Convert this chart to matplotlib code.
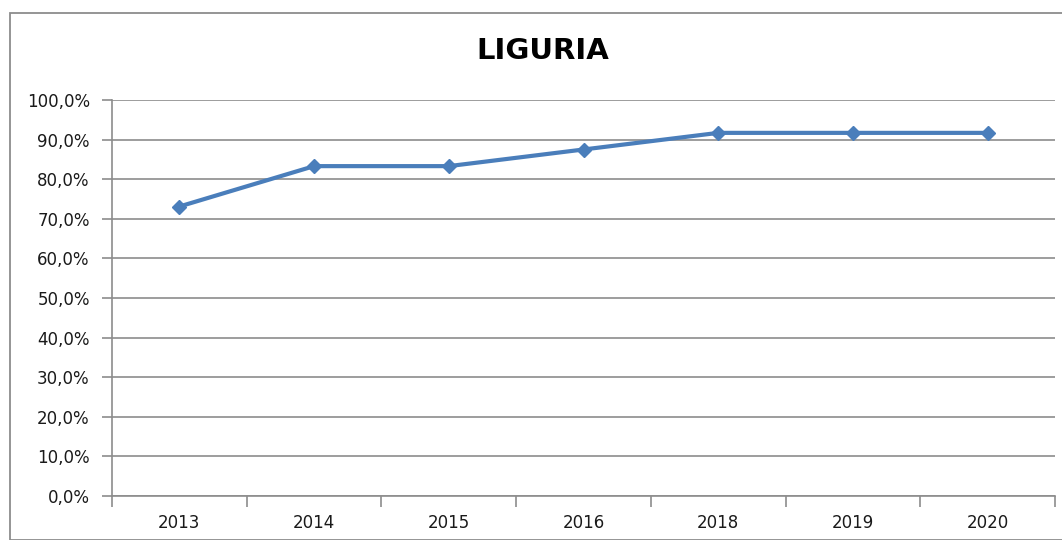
import matplotlib.pyplot as plt
from matplotlib.patches import Rectangle
from matplotlib.ticker import FuncFormatter, FixedLocator

# Dati Liguria
anni = ["2013", "2014", "2015", "2016", "2018", "2019", "2020"]
percentuali = [73.1, 83.3, 83.3, 87.5, 91.7, 91.7, 91.7]

def main():
    fig = plt.figure(figsize=(10.62, 5.40), dpi=100)
    plt.rcParams['font.family'] = ['DejaVu Sans']

    # cornice del grafico
    W, H = 1062, 540
    fig.patches.append(Rectangle((10 / W, 0), 1.2, 1 - 13 / H, transform=fig.transFigure,
                                 fill=False, edgecolor="#8c8c8c", linewidth=1.3))

    ax = fig.add_axes([112 / W, 1 - 496 / H, (1055 - 112) / W, (496 - 100) / H])

    x = range(len(anni))
    valori = [v / 100 for v in percentuali]
    ax.plot(x, valori, color="#4a7ebb", linewidth=3, marker="D", markersize=7.5,
            markeredgecolor="#4a7ebb", zorder=3)

    ax.set_xlim(-0.5, len(anni) - 0.5)
    ax.set_ylim(0, 1)
    ax.set_yticks([i / 10 for i in range(11)])
    ax.yaxis.set_major_formatter(FuncFormatter(lambda v, p: f"{v * 100:.1f}%".replace(".", ",")))
    ax.grid(axis="y", color="#8c8c8c", linewidth=1.2)
    ax.set_axisbelow(True)

    ax.set_xticks(list(x))
    ax.set_xticklabels(anni)
    ax.xaxis.set_minor_locator(FixedLocator([i - 0.5 for i in range(len(anni) + 1)]))
    ax.tick_params(axis="x", which="major", length=0, pad=13, labelsize=12, labelcolor="#1a1a1a")
    ax.tick_params(axis="x", which="minor", length=8, width=1.2, color="#8c8c8c")
    ax.tick_params(axis="y", length=7, width=1.2, color="#8c8c8c", pad=9,
                   labelsize=12, labelcolor="#1a1a1a")

    for lato in ["top", "right"]:
        ax.spines[lato].set_visible(False)
    for lato in ["left", "bottom"]:
        ax.spines[lato].set_color("#8c8c8c")
        ax.spines[lato].set_linewidth(1.2)

    fig.text(0.511, 1 - 51 / H, "LIGURIA", ha="center", va="center",
             fontsize=21, fontweight="bold")

    fig.savefig("out.png", dpi=100)

if __name__ == "__main__":
    main()
